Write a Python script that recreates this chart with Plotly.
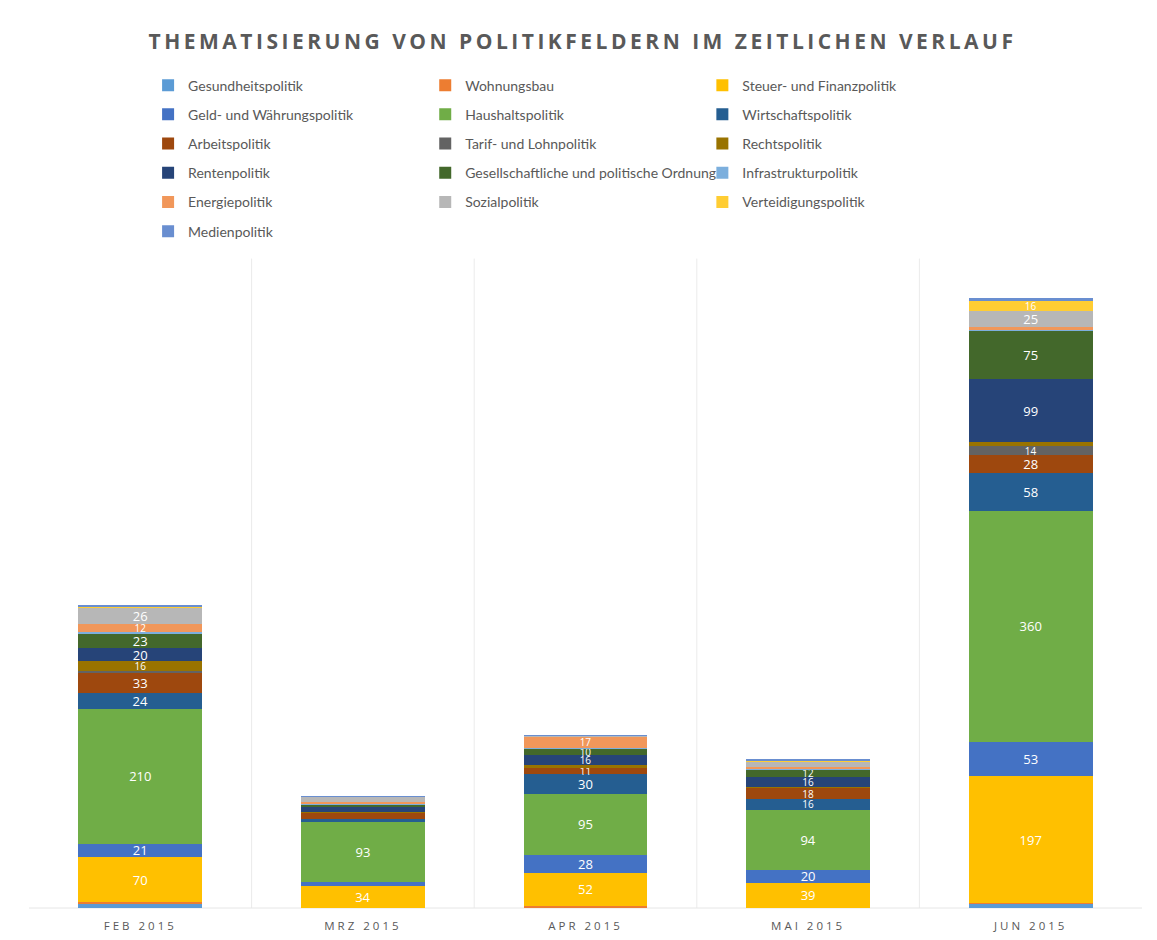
import plotly.graph_objects as go

months = ["FEB 2015", "MRZ 2015", "APR 2015", "MAI 2015", "JUN 2015"]

series_names = [
    "Gesundheitspolitik", "Wohnungsbau", "Steuer- und Finanzpolitik",
    "Geld- und Währungspolitik", "Haushaltspolitik", "Wirtschaftspolitik",
    "Arbeitspolitik", "Tarif- und Lohnpolitik", "Rechtspolitik",
    "Rentenpolitik", "Gesellschaftliche und politische Ordnung", "Infrastrukturpolitik",
    "Energiepolitik", "Sozialpolitik", "Verteidigungspolitik",
    "Medienpolitik",
]

gesundheit = [7, 0, 0, 0, 7]
wohnungsbau = [2, 0, 3, 0, 1]
steuer = [70, 34, 52, 39, 197]
geld = [21, 6, 28, 20, 53]
haushalt = [210, 93, 95, 94, 360]
wirtschaft = [24, 6, 30, 16, 58]
arbeit = [33, 9, 11, 18, 28]
tarif = [1, 0, 0, 0, 14]
recht = [16, 2, 3, 1, 6]
renten = [20, 7, 16, 16, 99]
gesellschaft = [23, 4, 10, 12, 75]
infrastruktur = [2, 1, 1, 1, 1]
energie = [12, 3, 17, 3, 5]
sozial = [26, 8, 2, 8, 25]
verteidigung = [2, 0, 0, 2, 16]
medien = [2, 1, 1, 1, 3]

values = [gesundheit, wohnungsbau, steuer, geld, haushalt, wirtschaft, arbeit, tarif,
          recht, renten, gesellschaft, infrastruktur, energie, sozial, verteidigung, medien]

colors = ["#5B9BD5", "#ED7D31", "#FFC000", "#4472C4", "#70AD47", "#255E91",
          "#9E480E", "#636363", "#997300", "#264478", "#43682B", "#7CAFDD",
          "#F1975A", "#B7B7B7", "#FFCD33", "#698ED0"]

LABEL_MIN = 10

fig = go.Figure()
for i, (name, vals, col) in enumerate(zip(series_names, values, colors)):
    legend_id = ["legend", "legend2", "legend3"][i % 3]
    fig.add_trace(go.Bar(
        x=months, y=vals, name=name,
        marker=dict(color=col, line=dict(width=0)),
        text=[str(v) if v >= LABEL_MIN else "" for v in vals],
        textposition="inside", insidetextanchor="middle",
        constraintext="none", textangle=0,
        textfont=dict(color="white", family="Open Sans",
                      size=[13 if v >= 20 else 10 for v in vals]),
        legend=legend_id, legendgroup=name,
        hoverinfo="x+y+name",
    ))

grey = "#595959"
leg_common = dict(orientation="v", yanchor="top", xanchor="left",
                  font=dict(size=14, color=grey, family="Lato"),
                  tracegroupgap=8, bgcolor="rgba(0,0,0,0)", itemwidth=30)

shapes = []
for k in range(len(months) - 1):
    shapes.append(dict(type="line", xref="x", yref="paper", x0=k + 0.5, x1=k + 0.5,
                       y0=0, y1=1.01, line=dict(color="#ebebeb", width=1), layer="below"))
shapes.append(dict(type="line", xref="paper", yref="paper", x0=0, x1=1, y0=0, y1=0,
                   line=dict(color="#e6e6e6", width=1), layer="below"))

fig.update_layout(
    width=1149, height=932,
    barmode="stack", bargap=0.443,
    paper_bgcolor="white", plot_bgcolor="white",
    margin=dict(l=21, r=15, t=257, b=32),
    title=dict(
        text='<span style="letter-spacing:3.5px">THEMATISIERUNG VON POLITIKFELDERN IM ZEITLICHEN VERLAUF</span>',
        x=0.5, xanchor="center", y=0.9635, yanchor="middle",
        font=dict(family="Open Sans", size=21, color=grey, weight="bold"),
    ),
    xaxis=dict(
        tickvals=months,
        ticktext=['<span style="letter-spacing:3px">%s</span>' % m for m in months],
        tickfont=dict(size=11.5, color=grey, family="Open Sans"),
        showgrid=False, showline=False, zeroline=False, ticks="",
        ticklabelstandoff=9, automargin=False,
    ),
    yaxis=dict(range=[0, 1000], visible=False, showgrid=False, automargin=False),
    legend=dict(x=0.107, y=1.304, **leg_common),
    legend2=dict(x=0.356, y=1.304, **leg_common),
    legend3=dict(x=0.605, y=1.304, **leg_common),
    shapes=shapes,
    showlegend=True,
)

fig.write_html("out.html")
